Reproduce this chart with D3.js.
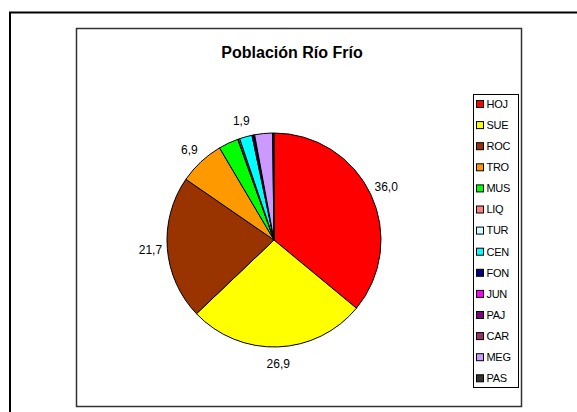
<!DOCTYPE html>
<html>
<head>
<meta charset="utf-8">
<script src="https://cdn.jsdelivr.net/npm/d3@7"></script>
<style>
  html, body { margin: 0; padding: 0; background: #fff; }
  svg { display: block; font-family: "Liberation Sans", Arial, sans-serif; }
</style>
</head>
<body>
<svg id="chart" width="577" height="412"></svg>
<script>
// Population share per group, Río Frío
const categories = ["HOJ", "SUE", "ROC", "TRO", "MUS", "LIQ", "TUR", "CEN", "FON", "JUN", "PAJ", "CAR", "MEG", "PAS"];
const values     = [36.0, 26.9, 21.7, 6.9, 3.0, 0.1, 0.2, 1.9, 0.3, 0.0, 0.0, 0.1, 2.7, 0.2];
const colors     = ["#FF0000", "#FFFF00", "#993300", "#FF9900", "#00FF00", "#FF8080", "#CCFFFF",
                    "#00FFFF", "#000080", "#FF00FF", "#800080", "#993366", "#CC99FF", "#333333"];
const labelled   = ["HOJ", "SUE", "ROC", "TRO", "CEN"];
const title      = "Población Río Frío";

const svg = d3.select("#chart");

// outer chart frame (continues past the right and bottom edges)
svg.append("path")
  .attr("d", "M10,420 L10,12.5 L585,12.5")
  .attr("fill", "none").attr("stroke", "#000").attr("stroke-width", 2);

// inner frame
svg.append("rect")
  .attr("x", 76.5).attr("y", 28.5).attr("width", 445).attr("height", 378)
  .attr("fill", "none").attr("stroke", "#333").attr("stroke-width", 1.5);

svg.append("text")
  .attr("x", 292).attr("y", 58)
  .attr("text-anchor", "middle")
  .attr("font-size", 16).attr("font-weight", "bold")
  .text(title);

const data = categories.map((c, i) => ({ cat: c, value: values[i], color: colors[i] }));
const cx = 274, cy = 240, r = 107;

const pie = d3.pie().value(d => d.value).sort(null);
const arc = d3.arc().innerRadius(0).outerRadius(r);
const arcs = pie(data);

const g = svg.append("g").attr("transform", `translate(${cx},${cy})`);
g.selectAll("path.slice")
  .data(arcs)
  .join("path")
  .attr("class", "slice")
  .attr("d", arc)
  .attr("fill", d => d.data.color)
  .attr("stroke", "#000")
  .attr("stroke-width", 1);

const fmt = v => d3.format(".1f")(v).replace(".", ",");
const labelArc = d3.arc().innerRadius(124).outerRadius(124);
g.selectAll("text.val")
  .data(arcs.filter(d => labelled.includes(d.data.cat)))
  .join("text")
  .attr("class", "val")
  .attr("transform", d => `translate(${labelArc.centroid(d)})`)
  .attr("text-anchor", "middle")
  .attr("dy", "0.35em")
  .attr("font-size", 12)
  .attr("fill", "#000")
  .text(d => fmt(d.data.value));

// legend
const lx = 473.5, ly = 94.5, step = 21.1;
svg.append("rect")
  .attr("x", lx).attr("y", ly).attr("width", 45).attr("height", 293)
  .attr("fill", "#fff").attr("stroke", "#000").attr("stroke-width", 1);

const items = svg.selectAll("g.item")
  .data(data)
  .join("g")
  .attr("class", "item")
  .attr("transform", (d, i) => `translate(${lx}, ${104 + i * step})`);
items.append("rect")
  .attr("x", 3).attr("y", -3.5).attr("width", 7).attr("height", 7)
  .attr("fill", d => d.color).attr("stroke", "#000").attr("stroke-width", 1);
items.append("text")
  .attr("x", 13).attr("y", 0).attr("dy", "0.35em")
  .attr("font-size", 11).attr("letter-spacing", -0.3)
  .text(d => d.cat);
</script>
</body>
</html>
